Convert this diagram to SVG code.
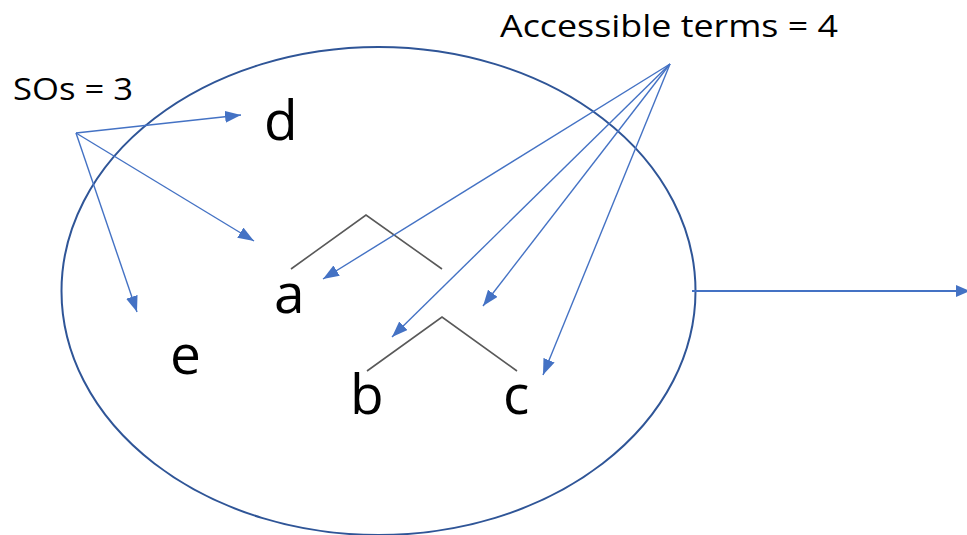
<svg xmlns="http://www.w3.org/2000/svg" width="967" height="535" viewBox="0 0 967 535">
  <style>
    .lbl { font-family: "Open Sans", "Liberation Sans", sans-serif; fill: #000; }
    .big { font-size: 55px; }
    .cap { font-size: 31px; }
    .tree { stroke: #595959; stroke-width: 1.6; fill: none; }
    .arw { stroke: #4472C4; stroke-width: 1.4; fill: none; marker-end: url(#head); }
  </style>
  <defs>
    <marker id="head" viewBox="0 0 16 12" refX="16" refY="6" markerWidth="16" markerHeight="12" markerUnits="userSpaceOnUse" orient="auto">
      <path d="M0,0 L16,6 L0,12 Z" fill="#4472C4"/>
    </marker>
    <marker id="headBig" viewBox="0 0 14 12" refX="14" refY="6" markerWidth="14" markerHeight="12" markerUnits="userSpaceOnUse" orient="auto">
      <path d="M0,0 L14,6 L0,12 Z" fill="#4472C4"/>
    </marker>
  </defs>

  <!-- set boundary -->
  <g id="set">
    <ellipse cx="378.5" cy="291" rx="317" ry="244" fill="none" stroke="#2F5597" stroke-width="2"/>
  </g>

  <!-- tree structures -->
  <g id="tree-top">
    <polyline class="tree" points="291,269 366,215 442,269"/>
  </g>
  <g id="tree-bottom">
    <polyline class="tree" points="367,371 442,317 517,371"/>
  </g>

  <!-- terms -->
  <g id="node-d"><text class="lbl big" x="264" y="140">d</text></g>
  <g id="node-a"><text class="lbl big" x="274" y="313">a</text></g>
  <g id="node-e"><text class="lbl big" x="170" y="374">e</text></g>
  <g id="node-b"><text class="lbl big" x="350" y="414">b</text></g>
  <g id="node-c"><text class="lbl big" x="503" y="414">c</text></g>

  <!-- counters -->
  <g id="label-sos"><text class="lbl cap" x="13" y="100" textLength="120" lengthAdjust="spacingAndGlyphs">SOs = 3</text></g>
  <g id="label-terms"><text class="lbl cap" x="500" y="37" textLength="338" lengthAdjust="spacingAndGlyphs">Accessible terms = 4</text></g>

  <!-- connectors -->
  <g id="connectors">
    <line class="arw" x1="76" y1="133" x2="241" y2="115"/>
    <line class="arw" x1="76" y1="133" x2="254" y2="241"/>
    <line class="arw" x1="76" y1="133" x2="137" y2="312"/>
    <line class="arw" x1="670" y1="64" x2="323" y2="279"/>
    <line class="arw" x1="670" y1="64" x2="392" y2="337"/>
    <line class="arw" x1="670" y1="64" x2="483" y2="306"/>
    <line class="arw" x1="670" y1="64" x2="543" y2="375"/>
    <line x1="692" y1="291" x2="970" y2="291" stroke="#4472C4" stroke-width="2" marker-end="url(#headBig)"/>
  </g>
</svg>
